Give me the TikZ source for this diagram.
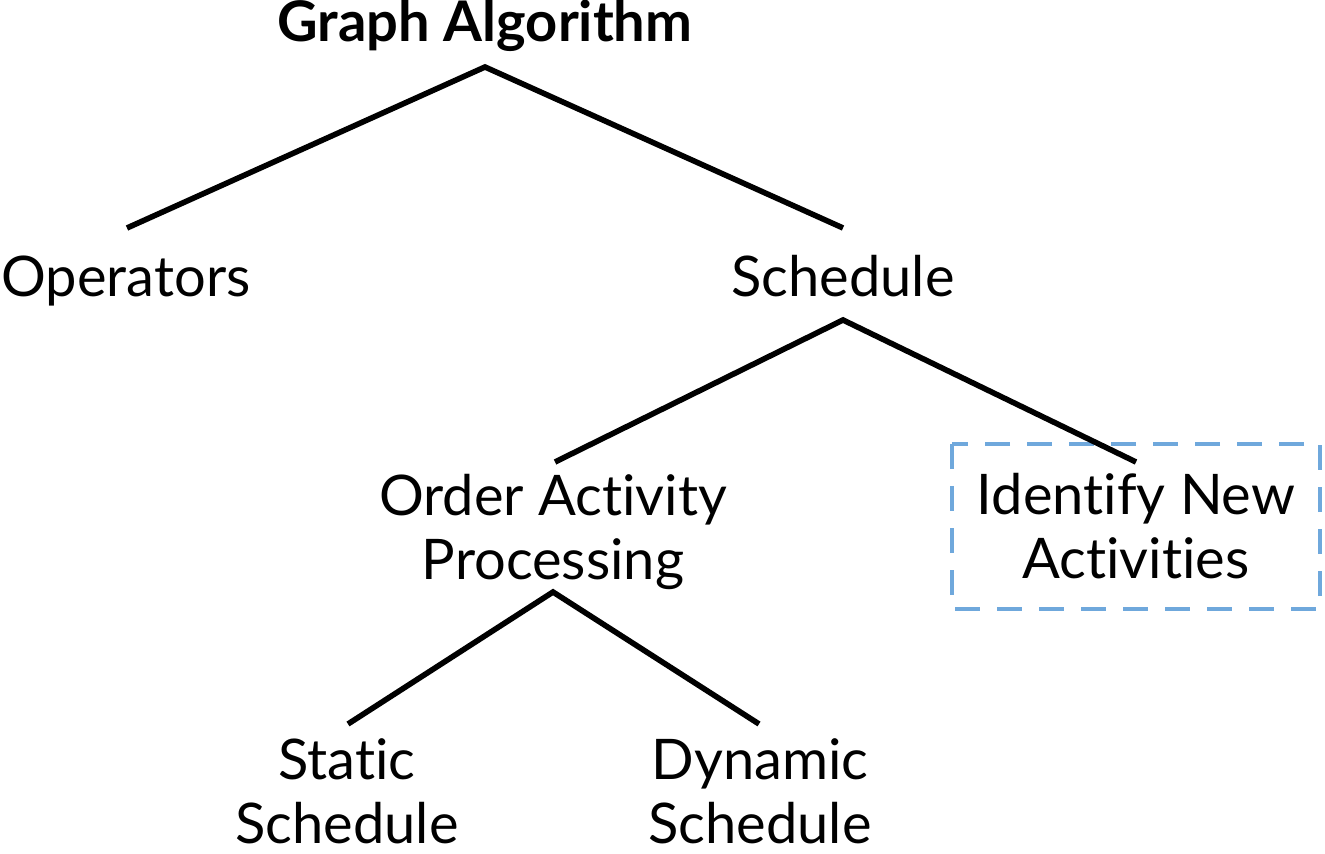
\documentclass[tikz,border=0pt]{standalone}
\usepackage{fontspec}
\setmainfont{Lato}[Ligatures=CommonOff]
\usetikzlibrary{calc}
\definecolor{boxblue}{HTML}{6FA8DC}
\begin{document}
\begin{tikzpicture}[x=0.5pt,y=-0.5pt,
  lbl/.style={font=\fontsize{28}{32}\selectfont, align=center, inner sep=0pt, anchor=base},
  ttl/.style={font=\fontsize{28}{32}\selectfont\bfseries, inner sep=0pt, anchor=base},
  edge/.style={line width=2.8pt, line cap=butt},
  dbox/.style={draw=boxblue, line width=2.4pt, dash pattern=on 12.5pt off 8.5pt}]
\useasboundingbox (0,0) rectangle (1325,854);
\node[ttl] (ga) at (485,42) {Graph Algorithm};
\node[lbl] (ops) at (126,297) {Operators};
\node[lbl] (sch) at (843,297) {Schedule};
\node[lbl] (oap) at (553,579) {Order Activity\\Processing};
\node[lbl] (ina) at (1136,578) {Identify New\\Activities};
\node[lbl] (sts) at (347,843) {Static\\Schedule};
\node[lbl] (dys) at (760,843) {Dynamic\\Schedule};
\coordinate (ga-b) at (485,67);
\coordinate (ops-t) at (127,228);
\coordinate (sch-t) at (843,228);
\coordinate (sch-b) at (843,320);
\coordinate (oap-t) at (555,462);
\coordinate (ina-t) at (1136,462);
\coordinate (oap-b) at (553,592);
\coordinate (sts-t) at (348,724);
\coordinate (dys-t) at (759,724);
\draw[dbox] (952,444) rectangle (1320,609);
\draw[edge] (ops-t) -- (ga-b) -- (sch-t);
\draw[edge] (oap-t) -- (sch-b) -- (ina-t);
\draw[edge] (sts-t) -- (oap-b) -- (dys-t);
\end{tikzpicture}
\end{document}
